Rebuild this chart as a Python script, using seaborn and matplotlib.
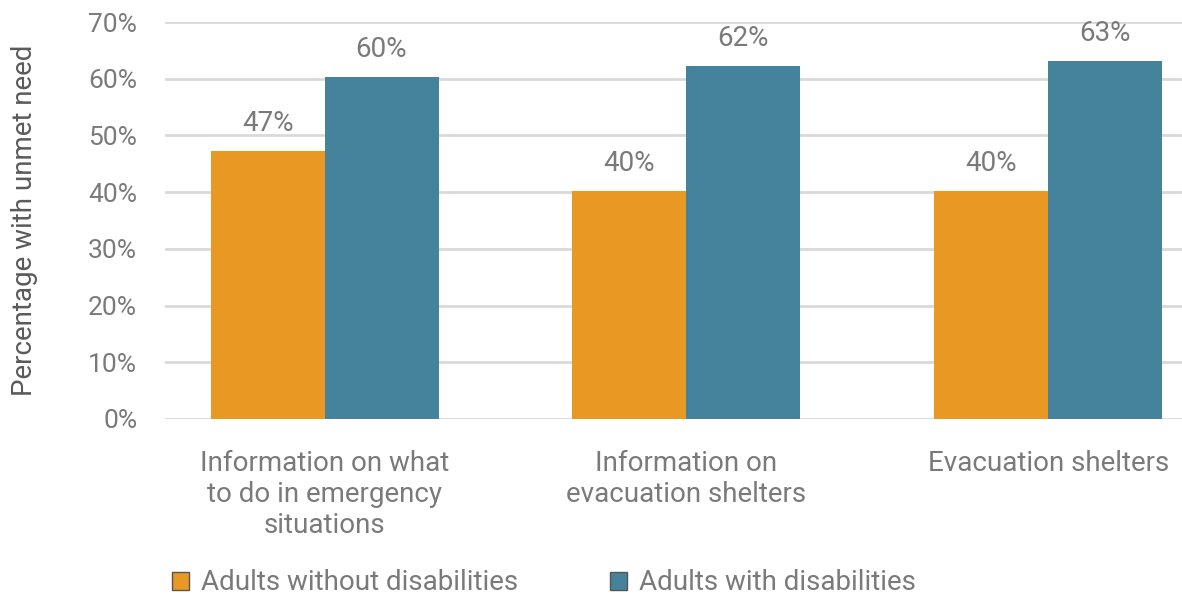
import matplotlib
matplotlib.use("Agg")
import matplotlib.pyplot as plt
import seaborn as sns
import pandas as pd
from matplotlib.patches import Patch

categories = ["Information on what\nto do in emergency\nsituations",
              "Information on\nevacuation shelters",
              "Evacuation shelters"]
series_names = ["Adults without disabilities", "Adults with disabilities"]
without_vals = [47.3, 40.2, 40.2]
with_vals = [60.3, 62.2, 63.2]
bar_labels_without = ["47%", "40%", "40%"]
bar_labels_with = ["60%", "62%", "63%"]
yticks = [0, 10, 20, 30, 40, 50, 60, 70]
ytick_labels = ["0%", "10%", "20%", "30%", "40%", "50%", "60%", "70%"]
colors = ["#E89923", "#45829B"]

df = pd.DataFrame({
    "category": categories * 2,
    "group": [series_names[0]] * 3 + [series_names[1]] * 3,
    "value": without_vals + with_vals,
})

sns.set_theme(style="white")
plt.rcParams["font.family"] = ["Roboto", "DejaVu Sans"]
text_color = "#7A7A7A"
fs = 20

fig = plt.figure(figsize=(11.82, 5.97), dpi=100)
ax = fig.add_axes([165 / 1182, (597 - 419) / 597, 1 - 165 / 1182, (419 - 22) / 597])

sns.barplot(data=df, x="category", y="value", hue="group", palette=colors,
            width=0.63, saturation=1, ax=ax, legend=False, zorder=3, linewidth=0)

ax.set_ylim(0, 70)
ax.set_xlim(-0.441, 2.37)
ax.set_yticks(yticks)
ax.set_yticklabels(ytick_labels)
ax.yaxis.grid(True, color="#D9D9D9", linewidth=2, zorder=0)
ax.set_axisbelow(True)
for s in ax.spines.values():
    s.set_visible(False)
ax.tick_params(axis="both", length=0, colors=text_color)
ax.tick_params(axis="y", pad=20, labelsize=19)
ax.tick_params(axis="x", pad=22, labelsize=fs)
for lbl in ax.get_yticklabels():
    lbl.set_color(text_color)
for lbl in ax.get_xticklabels():
    lbl.set_color(text_color)
    lbl.set_linespacing(1.2)
ax.set_xlabel("")
ax.set_ylabel("Percentage with unmet need", fontsize=fs, color="#5A5A5A",
              labelpad=36)

for cont, labs in zip(ax.containers, [bar_labels_without, bar_labels_with]):
    ax.bar_label(cont, labels=labs, padding=10, fontsize=fs, color=text_color)

handles = [Patch(facecolor=c, edgecolor="#555555", linewidth=1) for c in colors]
fig.legend(handles, series_names, loc="center left", bbox_to_anchor=(147 / 1182, 1 - 583 / 597),
           ncol=2, frameon=False, handlelength=0.6, handleheight=0.6,
           handletextpad=0.45, columnspacing=3.3, labelcolor=text_color,
           prop={"size": fs})

fig.savefig("out.png", dpi=100)
